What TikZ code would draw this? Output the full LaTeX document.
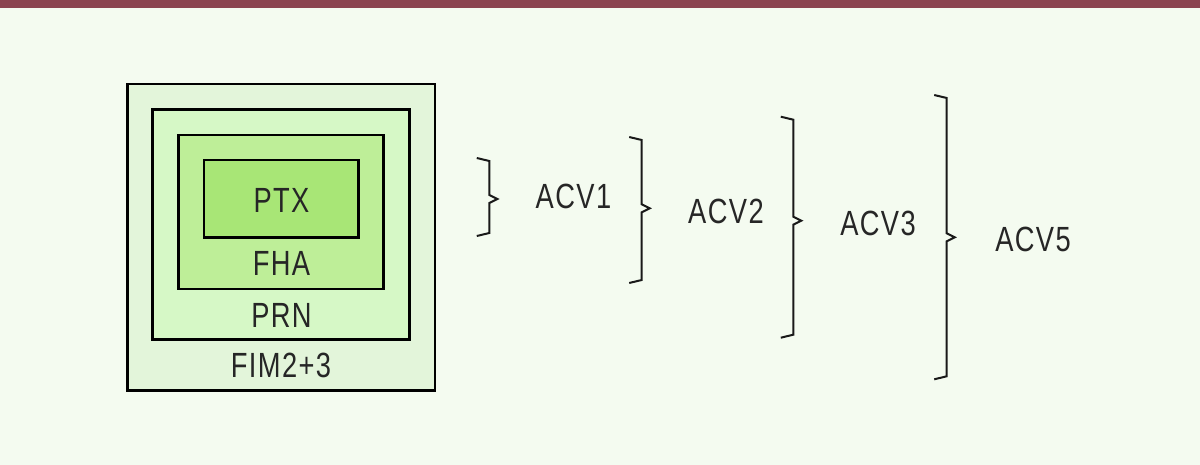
\documentclass[tikz,border=0pt]{standalone}
\usepackage{fontspec}
\setmainfont{Liberation Sans}[FakeStretch=0.78,LetterSpace=4]
\definecolor{bgc}{HTML}{F4FBF0}
\definecolor{barc}{HTML}{8B4450}
\definecolor{cfim}{HTML}{E3F5DA}
\definecolor{cprn}{HTML}{D6F8C6}
\definecolor{cfha}{HTML}{BEEE98}
\definecolor{cptx}{HTML}{A8E676}
\begin{document}
\begin{tikzpicture}[x=1pt,y=-1pt,
  box/.style={draw=black, line width=2.5pt, inner sep=0pt, outer sep=0pt},
  lbl/.style={font=\fontsize{35}{35}\selectfont, inner sep=0pt, text=black!85},
  bracepath/.style={line width=2pt, line join=miter, draw=black!90}]
\fill[bgc] (0,0) rectangle (1200,465);
\fill[barc] (0,0) rectangle (1200,8);
\useasboundingbox (0,0) rectangle (1200,465);
% nested boxes
\node[box, fill=cfim, minimum width=307.5pt, minimum height=306.5pt] (fim) at (281.25,237.25) {};
\node[box, fill=cprn, minimum width=256.6pt, minimum height=230pt] (prn) at (281,224.3) {};
\node[box, fill=cfha, minimum width=205pt, minimum height=154pt] (fha) at (280.8,212) {};
\node[box, fill=cptx, minimum width=154.3pt, minimum height=77.3pt] (ptx) at (281.2,198.7) {};
% labels
\node[lbl] (tptx) at (281.5,200) {PTX};
\node[lbl] (tfha) at (281.5,263.5) {FHA};
\node[lbl] (tprn) at (281.5,315) {PRN};
\node[lbl] (tfim) at (281,365) {FIM2+3};
% braces
\foreach \X/\T/\M/\B in {489.3/158/199/236, 641.7/137/208.3/283, 793.3/116.7/220.7/337.7, 946.7/95/237.3/379.3}
  \draw[bracepath] (\X-12.5,\T) -- (\X,\T+3) -- (\X,\M-4) -- (\X+8,\M) -- (\X,\M+4) -- (\X,\B-3) -- (\X-12.5,\B);
% brace labels
\node[lbl] (acv1) at (573.5,196.5) {ACV1};
\node[lbl] (acv2) at (726,211.7) {ACV2};
\node[lbl] (acv3) at (878,223) {ACV3};
\node[lbl] (acv5) at (1033,239.7) {ACV5};
\end{tikzpicture}
\end{document}
